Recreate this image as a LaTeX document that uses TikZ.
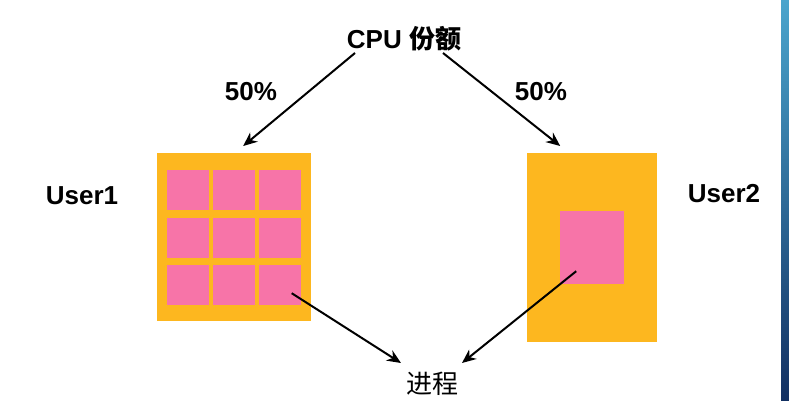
\documentclass[tikz,border=0pt]{standalone}
\usepackage{fontspec}
\setmainfont{Liberation Sans}
\newfontfamily\cjk{Noto Sans CJK SC}
\usetikzlibrary{arrows.meta, positioning}
\definecolor{shareorange}{RGB}{253,183,31}
\definecolor{procpink}{RGB}{247,116,168}
\definecolor{edgetop}{RGB}{75,165,205}
\definecolor{edgebottom}{RGB}{18,48,98}
\tikzset{
	userbox/.style={rectangle, fill=shareorange, draw=none, inner sep=0pt, anchor=north west},
	procbox/.style={rectangle, fill=procpink, draw=none, inner sep=0pt, anchor=north west},
	biglabel/.style={font=\fontsize{26}{30}\selectfont\bfseries, inner sep=0pt, anchor=base},
	cjklabel/.style={font=\fontsize{26}{30}\selectfont\cjk, inner sep=0pt, anchor=base},
	arrow/.style={-{Stealth[length=14pt, width=12pt]}, line width=2pt},
}
\begin{document}
\begin{tikzpicture}[x=1pt, y=-1pt]
	\useasboundingbox[fill=white] (0,0) rectangle (789,400);
	% slide edge on the right
	\shade[top color=edgetop, bottom color=edgebottom] (781,0) rectangle (789,400);
	% labels
	\node[biglabel](share) at (404,48){CPU {\cjk 份额}};
	\node[biglabel](halfl) at (251,100){50\%};
	\node[biglabel](halfr) at (541,100){50\%};
	\node[biglabel](user1) at (82,204){User1};
	\node[biglabel](user2) at (724,202){User2};
	\node[cjklabel](proc) at (432,393){进程};
	% user boxes
	\node[userbox, minimum width=154pt, minimum height=168pt](box1) at (157,153){};
	\node[userbox, minimum width=130pt, minimum height=189pt](box2) at (527,153){};
	% processes of User1
	\foreach \r in {1,2,3}{
		\foreach \c in {1,2,3}{
			\node[procbox, minimum width=42pt, minimum height=40pt](p-\r-\c) at ({167+46*(\c-1)},{170+47.5*(\r-1)}){};
		}
	}
	% process of User2
	\node[procbox, minimum width=64pt, minimum height=73pt](q) at (560,211){};
	% arrows
	\draw[arrow]([xshift=-49pt,yshift=-5pt]share.base)--([xshift=9pt,yshift=7pt]box1.north);
	\draw[arrow]([xshift=39pt,yshift=-5pt]share.base)--([xshift=-32pt,yshift=7pt]box2.north);
	\draw[arrow]([xshift=11.5pt,yshift=-8pt]p-3-3.center)--([xshift=-31pt,yshift=30pt]proc.base);
	\draw[arrow]([xshift=-16pt,yshift=-23.5pt]q.center)--([xshift=30pt,yshift=30pt]proc.base);
\end{tikzpicture}
\end{document}
